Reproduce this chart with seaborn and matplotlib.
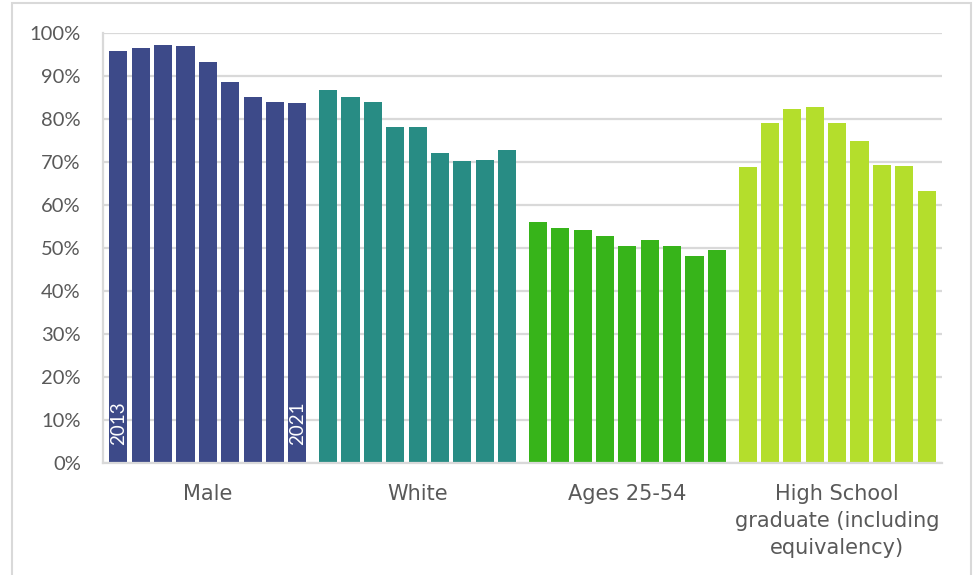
import pandas as pd
import seaborn as sns
import matplotlib.pyplot as plt
from matplotlib.patches import Rectangle
from matplotlib.ticker import PercentFormatter

# Dane (udział w %)
groups = ['Male', 'White', 'Ages 25-54', 'High School\ngraduate (including\nequivalency)']
years = [2013, 2014, 2015, 2016, 2017, 2018, 2019, 2020, 2021]
male = [95.9, 96.6, 97.3, 97.0, 93.3, 88.7, 85.2, 84.0, 83.8]
white = [86.8, 85.2, 84.0, 78.2, 78.2, 72.2, 70.3, 70.5, 72.9]
ages = [56.1, 54.7, 54.3, 52.9, 50.5, 51.9, 50.5, 48.2, 49.6]
high_school = [68.9, 79.1, 82.4, 82.9, 79.1, 75.0, 69.4, 69.1, 63.3]
group_colors = ['#3d4a89', '#288c84', '#37b41a', '#b4de2c']

rows = []
for g, vals in zip(groups, [male, white, ages, high_school]):
    for y, v in zip(years, vals):
        rows.append({'group': g, 'year': str(y), 'value': v})
df = pd.DataFrame(rows)

sns.set_style('white')
plt.rcParams['font.family'] = ['DejaVu Sans']

fig = plt.figure(figsize=(9.76, 5.75), dpi=100)
ax = fig.add_axes([103 / 976, 1 - 463 / 575, 839 / 976, 430 / 575])

sns.barplot(data=df, x='group', y='value', hue='year', order=groups,
            palette=['#3d4a89'] * len(years), width=0.96, gap=0.195,
            legend=False, saturation=1, ax=ax)

# Kolor słupków wg kategorii
for p in ax.patches:
    cx = p.get_x() + p.get_width() / 2
    p.set_facecolor(group_colors[int(round(cx))])
    p.set_edgecolor('none')

# Etykiety lat w pierwszej i ostatniej kolumnie "Male"
male_bars = sorted([p for p in ax.patches if round(p.get_x() + p.get_width() / 2) == 0],
                   key=lambda p: p.get_x())
for p, lab in [(male_bars[0], '2013'), (male_bars[-1], '2021')]:
    ax.text(p.get_x() + p.get_width() / 2, 4.3, lab, rotation=90, ha='center',
            va='bottom', color='white', fontsize=13.5, family='Lato')

ax.set_ylim(0, 100)
ax.set_xlim(-0.5, 3.5)
ax.set_yticks(range(0, 101, 10))
ax.yaxis.set_major_formatter(PercentFormatter(decimals=0))
ax.grid(axis='y', color='#d9d9d9', linewidth=1.6)
ax.set_axisbelow(True)
ax.set_xlabel('')
ax.set_ylabel('')

for side in ['top', 'right']:
    ax.spines[side].set_visible(False)
for side in ['left', 'bottom']:
    ax.spines[side].set_color('#d9d9d9')
    ax.spines[side].set_linewidth(1.6)

ax.tick_params(axis='y', length=0, pad=16, labelsize=14.5, labelcolor='#595959')
ax.tick_params(axis='x', length=0, pad=15, labelsize=15, labelcolor='#595959')
for t in ax.get_yticklabels():
    t.set_family('Lato')
for t in ax.get_xticklabels():
    t.set_linespacing(1.45)

# Ramka wykresu
fig.add_artist(Rectangle((12 / 976, -0.05), 959 / 976, 1.05 - 3 / 575,
                         transform=fig.transFigure, fill=False,
                         edgecolor='#d9d9d9', linewidth=1.5))

fig.savefig('out.png', dpi=100)
